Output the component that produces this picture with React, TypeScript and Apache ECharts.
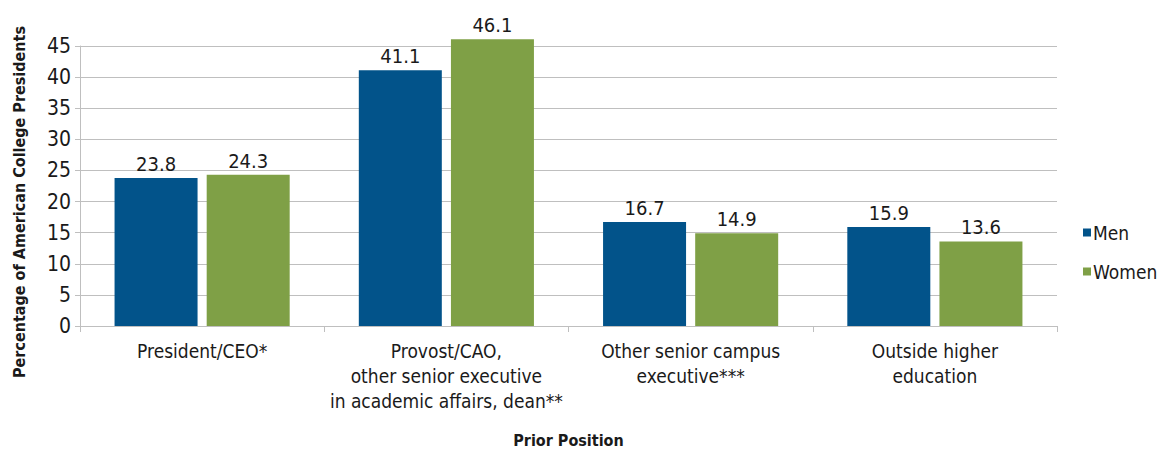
import React, { useEffect, useRef } from "react";
import * as echarts from "echarts";

const categories = [
  "President/CEO*",
  "Provost/CAO,\nother senior executive\nin academic affairs, dean**",
  "Other senior campus\nexecutive***",
  "Outside higher\neducation",
];
const men = [23.8, 41.1, 16.7, 15.9];
const women = [24.3, 46.1, 14.9, 13.6];
const yTitle = "Percentage of American College Presidents";

const FONT = "'DejaVu Sans Condensed', 'Liberation Sans Narrow', sans-serif";

export default function App() {
  const ref = useRef<HTMLDivElement>(null);
  useEffect(() => {
    if (!ref.current) return;
    const chart = echarts.init(ref.current, undefined, { renderer: "svg" });
    const labelStyle = {
      show: true,
      position: "top" as const,
      fontFamily: FONT,
      fontSize: 20,
      color: "#1a1a1a",
      distance: 4,
    };
    chart.setOption({
      animation: false,
      textStyle: { fontFamily: FONT },
      grid: { left: 80, right: 105, top: 46, bottom: 131 },
      graphic: [
        {
          type: "text",
          x: 19,
          y: 202,
          rotation: Math.PI / 2,
          style: {
            text: yTitle,
            fontFamily: FONT,
            fontSize: 16,
            fontWeight: "bold",
            fill: "#1a1a1a",
            align: "center",
            verticalAlign: "middle",
          },
        },
      ],
      legend: {
        orient: "vertical",
        left: 1078,
        top: 218,
        itemWidth: 8,
        itemHeight: 8,
        itemGap: 20,
        icon: "rect",
        textStyle: { fontFamily: FONT, fontSize: 19, color: "#1a1a1a", padding: [0, 0, 0, -3] },
        data: ["Men", "Women"],
      },
      xAxis: {
        type: "category",
        data: categories,
        name: "Prior Position",
        nameLocation: "middle",
        nameGap: 106,
        nameTextStyle: { fontFamily: FONT, fontSize: 16, fontWeight: "bold", color: "#1a1a1a" },
        axisLine: { lineStyle: { color: "#bfbfbf" } },
        axisTick: { show: true, length: 6, alignWithLabel: false, lineStyle: { color: "#bfbfbf" } },
        axisLabel: {
          fontFamily: FONT,
          fontSize: 19,
          color: "#1a1a1a",
          lineHeight: 25,
          margin: 12,
          interval: 0,
        },
      },
      yAxis: {
        type: "value",
        min: 0,
        max: 45,
        interval: 5,
        axisLine: { show: true, lineStyle: { color: "#bfbfbf" } },
        axisTick: { show: true, length: 5, lineStyle: { color: "#bfbfbf" } },
        axisLabel: { fontFamily: FONT, fontSize: 21, color: "#1a1a1a", margin: 9 },
        splitLine: { lineStyle: { color: "#bfbfbf" } },
      },
      series: [
        {
          name: "Men",
          type: "bar",
          data: men,
          barWidth: 83,
          barGap: "11%",
          clip: false,
          itemStyle: { color: "#02538a" },
          label: labelStyle,
        },
        {
          name: "Women",
          type: "bar",
          data: women,
          barWidth: 83,
          clip: false,
          itemStyle: { color: "#7fa046" },
          label: labelStyle,
        },
      ],
    });
    return () => chart.dispose();
  }, []);
  return <div ref={ref} style={{ width: 1162, height: 457, position: "absolute", left: 0, top: 0 }} />;
}
